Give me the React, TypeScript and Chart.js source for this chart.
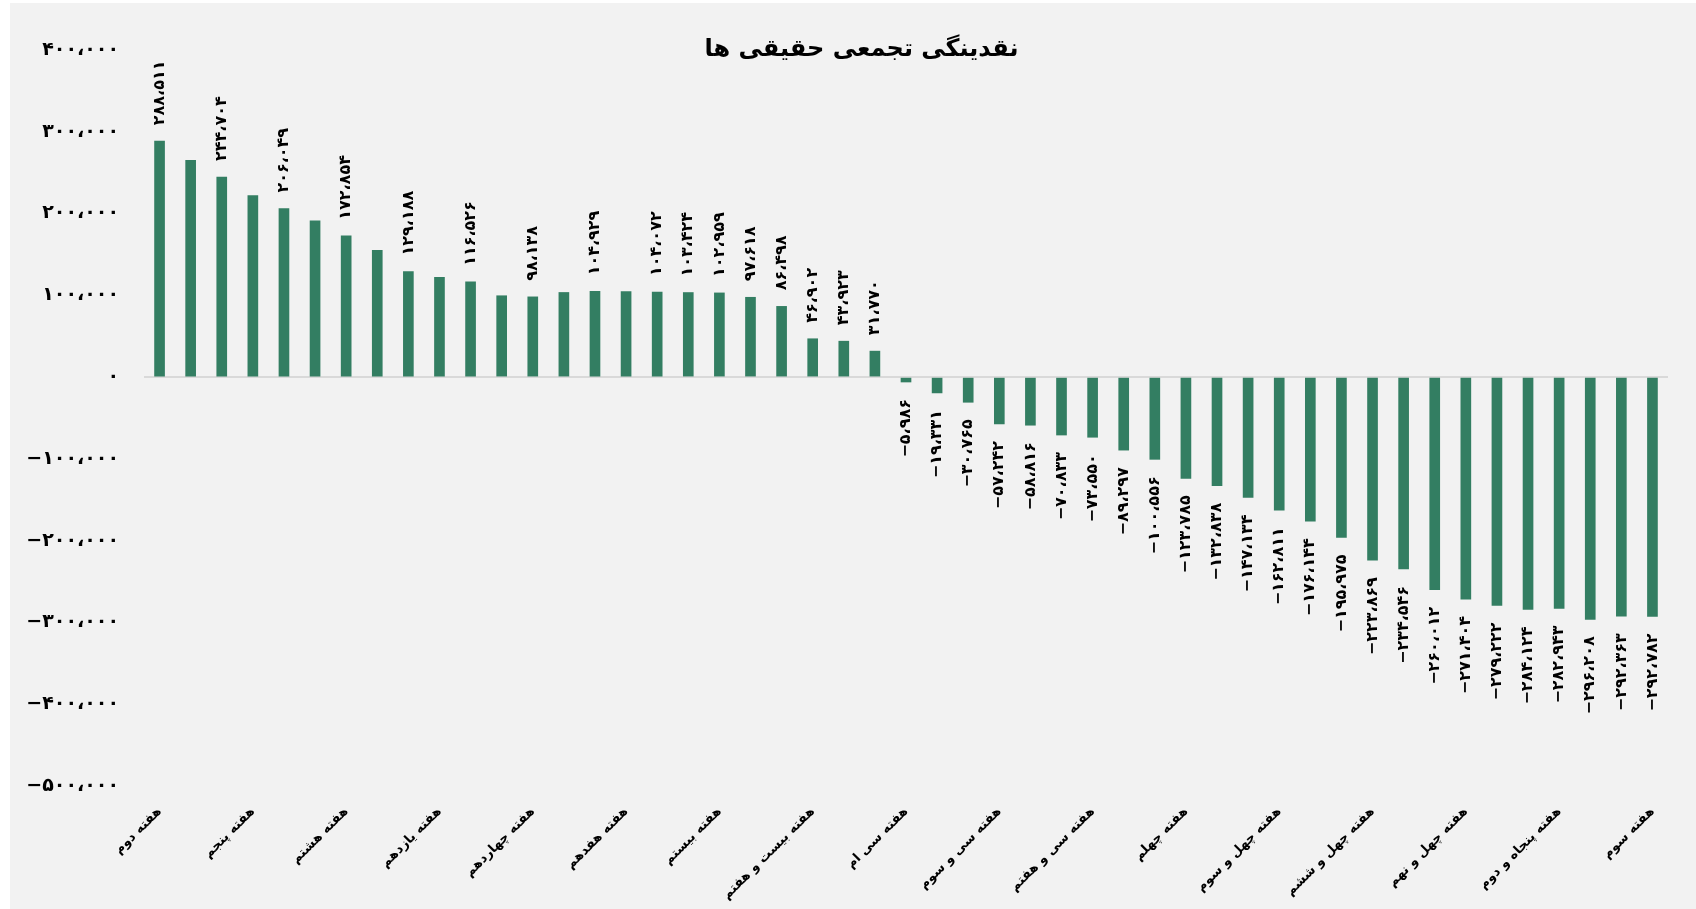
import React, { useEffect, useRef } from "react";
import { Chart, registerables } from "chart.js";

Chart.register(...registerables);

const titleText = "نقدینگی تجمعی حقیقی ها";

const categories: string[] = [
  "هفته دوم", "هفته سوم", "هفته چهارم", "هفته پنجم", "هفته ششم", "هفته هفتم",
  "هفته هشتم", "هفته نهم", "هفته دهم", "هفته یازدهم", "هفته دوازدهم", "هفته سیزدهم",
  "هفته چهاردهم", "هفته پانزدهم", "هفته شانزدهم", "هفته هفدهم", "هفته هجدهم", "هفته نوزدهم",
  "هفته بیستم", "هفته بیست و پنجم", "هفته بیست و ششم", "هفته بیست و هفتم", "هفته بیست و هشتم", "هفته بیست و نهم",
  "هفته سی ام", "هفته سی و یکم", "هفته سی و دوم", "هفته سی و سوم", "هفته سی و چهارم", "هفته سی و ششم",
  "هفته سی و هفتم", "هفته سی و هشتم", "هفته سی و نهم", "هفته چهلم", "هفته چهل و یکم", "هفته چهل و دوم",
  "هفته چهل و سوم", "هفته چهل و چهارم", "هفته چهل و پنجم", "هفته چهل و ششم", "هفته چهل و هفتم", "هفته چهل و هشتم",
  "هفته چهل و نهم", "هفته پنجاهم", "هفته پنجاه و یکم", "هفته پنجاه و دوم", "هفته اول", "هفته دوم",
  "هفته سوم",
];

const values: number[] = [
  288511, 265000, 244704, 222000, 206049, 191000, 172854, 155000, 129188, 122000,
  116526, 99500, 98138, 103500, 104929, 104500, 104072, 103424, 102959, 97618,
  86498, 46902, 43923, 31770, -5986, -19331, -30765, -57242, -58816, -70833,
  -73550, -89297, -100556, -123785, -132838, -147134, -162811, -176144, -195975, -223869,
  -234546, -260012, -271404, -279222, -284124, -282943, -296208, -292363, -292782,
];

// indices of bars whose value label is not shown in the original
const hiddenLabelIdx: number[] = [1, 3, 5, 7, 9, 11, 13, 15];

const yMin = -500000;
const yMax = 400000;
const yStep = 100000;

const faDigits = "۰۱۲۳۴۵۶۷۸۹";
function toFa(n: number): string {
  const abs = Math.abs(Math.round(n));
  const s = abs.toString().replace(/\B(?=(\d{3})+(?!\d))/g, "،");
  const fa = s.replace(/\d/g, (d) => faDigits[Number(d)]);
  return (n < 0 ? "−" : "") + fa;
}

const FONT = "'DejaVu Sans', sans-serif";

export default function App() {
  const ref = useRef<HTMLCanvasElement | null>(null);

  useEffect(() => {
    if (!ref.current) return;

    const labelPlugin = {
      id: "barValueLabels",
      afterDatasetsDraw(chart: any) {
        const ctx = chart.ctx;
        const meta = chart.getDatasetMeta(0);
        ctx.save();
        ctx.font = `bold 16px ${FONT}`;
        ctx.fillStyle = "#000";
        ctx.textBaseline = "middle";
        meta.data.forEach((bar: any, i: number) => {
          if (hiddenLabelIdx.includes(i)) return;
          const v = values[i];
          const txt = toFa(v);
          ctx.save();
          ctx.translate(bar.x, v >= 0 ? bar.y - 16 : bar.y + 17);
          ctx.rotate(-Math.PI / 2);
          ctx.textAlign = v >= 0 ? "left" : "right";
          ctx.fillText(txt, 0, 0);
          ctx.restore();
        });
        ctx.restore();
      },
    };

    const titlePlugin = {
      id: "customTitle",
      afterDraw(chart: any) {
        const ctx = chart.ctx;
        ctx.save();
        ctx.font = `bold 24px ${FONT}`;
        ctx.fillStyle = "#000";
        ctx.textAlign = "center";
        ctx.textBaseline = "middle";
        ctx.fillText(titleText, chart.width * 0.505, 47);
        ctx.restore();
      },
    };

    const chart = new Chart(ref.current, {
      type: "bar",
      data: {
        labels: categories,
        datasets: [
          {
            data: values,
            backgroundColor: "#337e62",
            borderWidth: 0,
            barThickness: 10,
          },
        ],
      },
      options: {
        animation: false,
        responsive: false,
        maintainAspectRatio: false,
        layout: { padding: { left: 0, right: 28, top: 47, bottom: 0 } },
        plugins: {
          legend: { display: false },
          title: { display: false },
          tooltip: { enabled: false },
        },
        scales: {
          x: {
            type: "category",
            offset: true,
            grid: { display: false, drawTicks: false },
            border: { display: false },
            ticks: {
              autoSkip: false,
              maxRotation: 45,
              minRotation: 45,
              padding: 18,
              color: "#000",
              font: { family: FONT, size: 13, weight: "bold" },
              callback: (_v: any, idx: number) => (idx % 3 === 0 ? categories[idx] : ""),
            },
            afterFit: (scale: any) => {
              scale.height = 123;
            },
          },
          y: {
            min: yMin,
            max: yMax,
            grid: {
              drawTicks: false,
              color: (c: any) => (c.tick && c.tick.value === 0 ? "#d9d9d9" : "rgba(0,0,0,0)"),
              lineWidth: 2,
            },
            border: { display: false },
            ticks: {
              stepSize: yStep,
              padding: 25,
              color: "#000",
              font: { family: FONT, size: 19, weight: "bold" },
              callback: (v: any) => toFa(Number(v)),
            },
            afterFit: (scale: any) => {
              scale.width = 134;
            },
          },
        },
      },
      plugins: [labelPlugin, titlePlugin],
    });

    return () => chart.destroy();
  }, []);

  return (
    <div
      style={{
        position: "fixed",
        left: 10,
        top: 3,
        width: 1686,
        height: 906,
        background: "#f2f2f2",
      }}
    >
      <canvas ref={ref} width={1686} height={906} style={{ width: 1686, height: 906, display: "block" }} />
    </div>
  );
}
